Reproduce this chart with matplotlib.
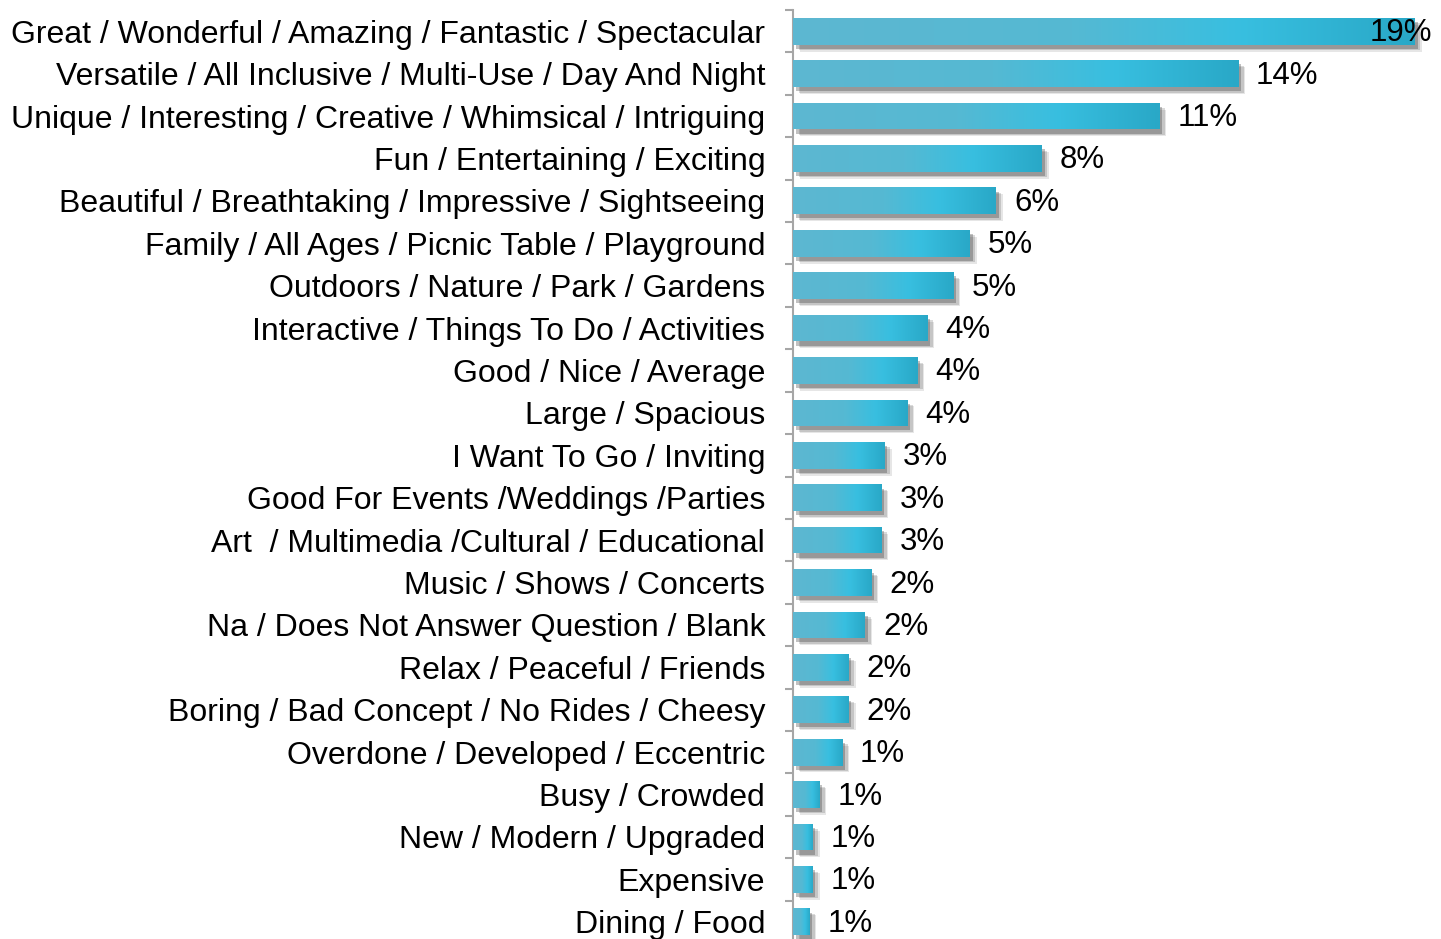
import numpy as np
import matplotlib.pyplot as plt
import matplotlib.patheffects as pe
from matplotlib.colors import LinearSegmentedColormap

categories = [
    'Great / Wonderful / Amazing / Fantastic / Spectacular',
    'Versatile / All Inclusive / Multi-Use / Day And Night',
    'Unique / Interesting / Creative / Whimsical / Intriguing',
    'Fun / Entertaining / Exciting',
    'Beautiful / Breathtaking / Impressive / Sightseeing',
    'Family / All Ages / Picnic Table / Playground',
    'Outdoors / Nature / Park / Gardens',
    'Interactive / Things To Do / Activities',
    'Good / Nice / Average',
    'Large / Spacious',
    'I Want To Go / Inviting',
    'Good For Events /Weddings /Parties',
    'Art  / Multimedia /Cultural / Educational',
    'Music / Shows / Concerts',
    'Na / Does Not Answer Question / Blank',
    'Relax / Peaceful / Friends',
    'Boring / Bad Concept / No Rides / Cheesy',
    'Overdone / Developed / Eccentric',
    'Busy / Crowded',
    'New / Modern / Upgraded',
    'Expensive',
    'Dining / Food',
]
values = [19.0, 13.6, 11.2, 7.6, 6.2, 5.4, 4.9, 4.1, 3.8, 3.5, 2.8,
          2.7, 2.7, 2.4, 2.2, 1.7, 1.7, 1.5, 0.8, 0.6, 0.6, 0.5]
value_labels = ['19%', '14%', '11%', '8%', '6%', '5%', '5%', '4%', '4%', '4%', '3%',
                '3%', '3%', '2%', '2%', '2%', '2%', '1%', '1%', '1%', '1%', '1%']

plt.rcParams['font.family'] = ['Liberation Sans', 'DejaVu Sans']

fig = plt.figure(figsize=(14.41, 9.39), dpi=100)
ax = fig.add_axes([793 / 1441, -4 / 939, 648 / 1441, 933 / 939])

y = np.arange(len(categories))
bars = ax.barh(y, values, height=0.63, color='#4bb7d3', edgecolor='none', zorder=2)

# soft drop shadow under each bar (a few stacked offsets to fake a blur)
shadow = [pe.SimplePatchShadow(offset=(5, -5), shadow_rgbFace='#333333', alpha=0.12),
          pe.SimplePatchShadow(offset=(4, -4), shadow_rgbFace='#333333', alpha=0.18),
          pe.SimplePatchShadow(offset=(2, -3), shadow_rgbFace='#333333', alpha=0.3),
          pe.Normal()]

cmap = LinearSegmentedColormap.from_list(
    'bar', [(0, '#5db7d1'), (0.45, '#55b9d3'), (0.72, '#38bfe0'), (1, '#29a8c7')])
grad = np.linspace(0, 1, 256).reshape(1, -1)
for b in bars:
    b.set_path_effects(shadow)
    x0, y0, w, h = b.get_x(), b.get_y(), b.get_width(), b.get_height()
    im = ax.imshow(grad, cmap=cmap, extent=(x0, x0 + w, y0 + h, y0),
                   aspect='auto', interpolation='bicubic', zorder=3)
    im.set_clip_path(b)

ax.set_xlim(0, 19.8)
ax.set_ylim(len(categories) - 0.5, -0.5)

for i, (v, lab) in enumerate(zip(values, value_labels)):
    if v / 19.8 > 0.9:
        ax.annotate(lab, xy=(1, i), xycoords=('axes fraction', 'data'), xytext=(-9, -2),
                    textcoords='offset pixels', ha='right', va='center', fontsize=22.5, zorder=5)
    else:
        ax.annotate(lab, xy=(v, i), xytext=(18, -2), textcoords='offset pixels',
                    ha='left', va='center', fontsize=22.5, zorder=5)

for s in ['top', 'right', 'bottom']:
    ax.spines[s].set_visible(False)
ax.spines['left'].set_color('#a6a6a6')
ax.spines['left'].set_linewidth(1.5)
ax.set_xticks([])
ax.set_yticks(y)
ax.set_yticklabels(categories, fontsize=23)
ax.tick_params(axis='y', which='major', length=0, pad=20)
ax.set_yticks(np.arange(-0.5, len(categories), 1), minor=True)
ax.tick_params(axis='y', which='minor', length=6, width=1.5, color='#a6a6a6')

fig.savefig('out.png', dpi=100)
